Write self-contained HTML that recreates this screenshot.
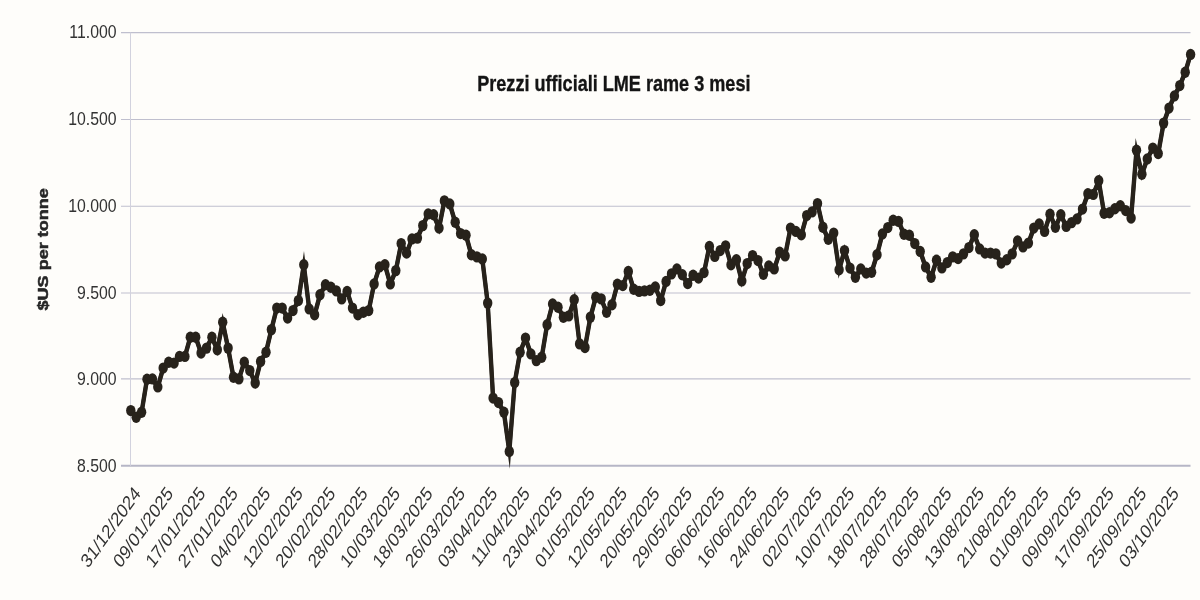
<!DOCTYPE html>
<html><head><meta charset="utf-8"><title>Prezzi ufficiali LME rame 3 mesi</title>
<style>html,body{margin:0;padding:0;background:#fefdfa;}body{width:1200px;height:600px;overflow:hidden;font-family:"Liberation Sans",sans-serif;}svg{display:block;}text{font-family:"Liberation Sans",sans-serif;}</style></head><body>
<svg style="will-change:transform;filter:blur(0.35px)" width="1200" height="600" viewBox="0 0 1200 600">
<rect x="0" y="0" width="1200" height="600" fill="#fefdfa"/>
<line x1="121" y1="32.60" x2="1190.5" y2="32.60" stroke="#bfbfce" stroke-width="1.1"/>
<line x1="121" y1="119.50" x2="1190.5" y2="119.50" stroke="#bfbfce" stroke-width="1.1"/>
<line x1="121" y1="206.30" x2="1190.5" y2="206.30" stroke="#bfbfce" stroke-width="1.1"/>
<line x1="121" y1="293.00" x2="1190.5" y2="293.00" stroke="#bfbfce" stroke-width="1.1"/>
<line x1="121" y1="378.90" x2="1190.5" y2="378.90" stroke="#bfbfce" stroke-width="1.1"/>
<line x1="121" y1="465.80" x2="1190.5" y2="465.80" stroke="#b6b6c6" stroke-width="1.9"/>
<line x1="130.5" y1="32.60" x2="130.5" y2="465.80" stroke="#d2d2de" stroke-width="1"/>
<text transform="translate(116.5,38.30) scale(0.859,1)" text-anchor="end" font-size="18.4" fill="#323232">11.000</text>
<text transform="translate(116.5,125.20) scale(0.859,1)" text-anchor="end" font-size="18.4" fill="#323232">10.500</text>
<text transform="translate(116.5,212.00) scale(0.859,1)" text-anchor="end" font-size="18.4" fill="#323232">10.000</text>
<text transform="translate(116.5,298.70) scale(0.859,1)" text-anchor="end" font-size="18.4" fill="#323232">9.500</text>
<text transform="translate(116.5,384.60) scale(0.859,1)" text-anchor="end" font-size="18.4" fill="#323232">9.000</text>
<text transform="translate(116.5,471.50) scale(0.859,1)" text-anchor="end" font-size="18.4" fill="#323232">8.500</text>
<text transform="translate(47.6,310.4) rotate(-90) scale(1.243,1)" font-size="14.5" font-weight="bold" fill="#262626" stroke="#262626" stroke-width="0.5">$US per tonne</text>
<text x="477.2" y="90.7" font-size="22.3" font-weight="bold" fill="#141414" stroke="#141414" stroke-width="0.35" textLength="273.3" lengthAdjust="spacingAndGlyphs">Prezzi ufficiali LME rame 3 mesi</text>
<text transform="translate(141.40,494.30) scale(1,1.226) rotate(-48.80)" text-anchor="end" font-size="16.20" fill="#323232">31/12/2024</text>
<text transform="translate(173.84,494.30) scale(1,1.226) rotate(-48.80)" text-anchor="end" font-size="16.20" fill="#323232">09/01/2025</text>
<text transform="translate(206.29,494.30) scale(1,1.226) rotate(-48.80)" text-anchor="end" font-size="16.20" fill="#323232">17/01/2025</text>
<text transform="translate(238.73,494.30) scale(1,1.226) rotate(-48.80)" text-anchor="end" font-size="16.20" fill="#323232">27/01/2025</text>
<text transform="translate(271.17,494.30) scale(1,1.226) rotate(-48.80)" text-anchor="end" font-size="16.20" fill="#323232">04/02/2025</text>
<text transform="translate(303.61,494.30) scale(1,1.226) rotate(-48.80)" text-anchor="end" font-size="16.20" fill="#323232">12/02/2025</text>
<text transform="translate(336.06,494.30) scale(1,1.226) rotate(-48.80)" text-anchor="end" font-size="16.20" fill="#323232">20/02/2025</text>
<text transform="translate(368.50,494.30) scale(1,1.226) rotate(-48.80)" text-anchor="end" font-size="16.20" fill="#323232">28/02/2025</text>
<text transform="translate(400.94,494.30) scale(1,1.226) rotate(-48.80)" text-anchor="end" font-size="16.20" fill="#323232">10/03/2025</text>
<text transform="translate(433.39,494.30) scale(1,1.226) rotate(-48.80)" text-anchor="end" font-size="16.20" fill="#323232">18/03/2025</text>
<text transform="translate(465.83,494.30) scale(1,1.226) rotate(-48.80)" text-anchor="end" font-size="16.20" fill="#323232">26/03/2025</text>
<text transform="translate(498.27,494.30) scale(1,1.226) rotate(-48.80)" text-anchor="end" font-size="16.20" fill="#323232">03/04/2025</text>
<text transform="translate(530.71,494.30) scale(1,1.226) rotate(-48.80)" text-anchor="end" font-size="16.20" fill="#323232">11/04/2025</text>
<text transform="translate(563.16,494.30) scale(1,1.226) rotate(-48.80)" text-anchor="end" font-size="16.20" fill="#323232">23/04/2025</text>
<text transform="translate(595.60,494.30) scale(1,1.226) rotate(-48.80)" text-anchor="end" font-size="16.20" fill="#323232">01/05/2025</text>
<text transform="translate(628.04,494.30) scale(1,1.226) rotate(-48.80)" text-anchor="end" font-size="16.20" fill="#323232">12/05/2025</text>
<text transform="translate(660.49,494.30) scale(1,1.226) rotate(-48.80)" text-anchor="end" font-size="16.20" fill="#323232">20/05/2025</text>
<text transform="translate(692.93,494.30) scale(1,1.226) rotate(-48.80)" text-anchor="end" font-size="16.20" fill="#323232">29/05/2025</text>
<text transform="translate(725.37,494.30) scale(1,1.226) rotate(-48.80)" text-anchor="end" font-size="16.20" fill="#323232">06/06/2025</text>
<text transform="translate(757.81,494.30) scale(1,1.226) rotate(-48.80)" text-anchor="end" font-size="16.20" fill="#323232">16/06/2025</text>
<text transform="translate(790.26,494.30) scale(1,1.226) rotate(-48.80)" text-anchor="end" font-size="16.20" fill="#323232">24/06/2025</text>
<text transform="translate(822.70,494.30) scale(1,1.226) rotate(-48.80)" text-anchor="end" font-size="16.20" fill="#323232">02/07/2025</text>
<text transform="translate(855.14,494.30) scale(1,1.226) rotate(-48.80)" text-anchor="end" font-size="16.20" fill="#323232">10/07/2025</text>
<text transform="translate(887.59,494.30) scale(1,1.226) rotate(-48.80)" text-anchor="end" font-size="16.20" fill="#323232">18/07/2025</text>
<text transform="translate(920.03,494.30) scale(1,1.226) rotate(-48.80)" text-anchor="end" font-size="16.20" fill="#323232">28/07/2025</text>
<text transform="translate(952.47,494.30) scale(1,1.226) rotate(-48.80)" text-anchor="end" font-size="16.20" fill="#323232">05/08/2025</text>
<text transform="translate(984.91,494.30) scale(1,1.226) rotate(-48.80)" text-anchor="end" font-size="16.20" fill="#323232">13/08/2025</text>
<text transform="translate(1017.36,494.30) scale(1,1.226) rotate(-48.80)" text-anchor="end" font-size="16.20" fill="#323232">21/08/2025</text>
<text transform="translate(1049.80,494.30) scale(1,1.226) rotate(-48.80)" text-anchor="end" font-size="16.20" fill="#323232">01/09/2025</text>
<text transform="translate(1082.24,494.30) scale(1,1.226) rotate(-48.80)" text-anchor="end" font-size="16.20" fill="#323232">09/09/2025</text>
<text transform="translate(1114.69,494.30) scale(1,1.226) rotate(-48.80)" text-anchor="end" font-size="16.20" fill="#323232">17/09/2025</text>
<text transform="translate(1147.13,494.30) scale(1,1.226) rotate(-48.80)" text-anchor="end" font-size="16.20" fill="#323232">25/09/2025</text>
<text transform="translate(1179.57,494.30) scale(1,1.226) rotate(-48.80)" text-anchor="end" font-size="16.20" fill="#323232">03/10/2025</text>
<g transform="scale(1,1.210)">
<polyline points="130.8,339.34 136.2,344.88 141.6,340.74 147.0,313.47 152.4,313.14 157.8,319.75 163.2,304.21 168.7,299.42 174.1,300.08 179.5,294.55 184.9,294.55 190.3,278.76 195.7,278.76 201.1,291.82 206.5,287.69 211.9,278.76 217.3,289.09 222.7,266.36 228.1,287.69 233.5,311.82 238.9,313.14 244.3,299.42 249.8,306.28 255.2,316.61 260.6,298.68 266.0,291.16 271.4,272.40 276.8,254.63 282.2,254.63 287.6,262.89 293.0,256.69 298.4,248.43 303.8,218.84 309.2,255.29 314.6,260.17 320.0,243.64 325.5,235.37 330.9,237.44 336.3,240.41 341.7,247.02 347.1,240.83 352.5,254.63 357.9,260.17 363.3,258.10 368.7,256.69 374.1,234.63 379.5,220.58 384.9,218.84 390.3,234.63 395.8,223.64 401.2,201.32 406.6,209.17 412.0,197.44 417.4,196.78 422.8,186.45 428.2,176.78 433.6,177.52 439.0,188.51 444.4,166.03 449.8,168.51 455.2,183.72 460.6,193.06 466.0,194.46 471.4,210.58 476.9,212.31 482.3,213.97 487.7,250.50 493.1,329.01 498.5,332.73 503.9,340.74 509.3,373.06 514.7,316.20 520.1,291.16 525.5,279.42 530.9,292.48 536.3,298.02 541.7,295.29 547.1,268.43 552.6,251.16 558.0,253.97 563.4,262.23 568.8,261.07 574.2,247.77 579.6,284.21 585.0,287.27 590.4,262.07 595.8,245.70 601.2,247.02 606.6,258.10 612.0,251.90 617.4,234.96 622.8,236.03 628.3,224.30 633.7,239.09 639.1,240.83 644.5,240.41 649.9,239.92 655.3,237.11 660.7,248.43 666.1,232.56 671.5,226.36 676.9,222.23 682.3,227.11 687.7,234.38 693.1,227.52 698.5,229.83 704.0,225.29 709.4,203.64 714.8,211.90 720.2,207.11 725.6,203.22 731.0,218.84 736.4,214.71 741.8,232.15 747.2,217.85 752.6,211.24 758.0,215.37 763.4,226.69 768.8,219.75 774.2,222.23 779.7,208.51 785.1,211.49 790.5,188.51 795.9,191.24 801.3,194.05 806.7,178.18 812.1,175.12 817.5,168.26 822.9,187.85 828.3,197.77 833.7,192.64 839.1,222.98 844.5,207.11 850.0,221.57 855.4,229.17 860.8,222.23 866.2,225.70 871.6,225.04 877.0,210.58 882.4,193.31 887.8,188.10 893.2,182.07 898.6,182.98 904.0,193.64 909.4,194.46 914.8,201.32 920.2,207.77 925.6,220.58 931.1,229.17 936.5,215.04 941.9,221.40 947.3,217.02 952.7,212.31 958.1,213.72 963.5,209.83 968.9,204.63 974.3,194.05 979.7,205.70 985.1,209.17 990.5,209.17 995.9,209.83 1001.3,217.44 1006.8,214.71 1012.2,209.83 1017.6,199.09 1023.0,204.05 1028.4,200.91 1033.8,188.51 1039.2,185.04 1044.6,191.24 1050.0,177.11 1055.4,187.85 1060.8,177.52 1066.2,187.11 1071.6,183.97 1077.0,180.91 1082.5,172.81 1087.9,160.17 1093.3,160.66 1098.7,149.42 1104.1,176.28 1109.5,175.87 1114.9,172.56 1120.3,170.08 1125.7,174.05 1131.1,180.25 1136.5,124.21 1141.9,144.05 1147.3,131.32 1152.8,122.40 1158.2,126.94 1163.6,101.74 1169.0,89.34 1174.4,79.26 1179.8,70.74 1185.2,59.75 1190.6,44.96" fill="none" stroke="#27221b" stroke-width="3.7" stroke-linejoin="miter" stroke-miterlimit="10" stroke-linecap="round"/>
<polyline points="130.8,339.34 136.2,344.88 141.6,340.74 147.0,313.47 152.4,313.14 157.8,319.75 163.2,304.21 168.7,299.42 174.1,300.08 179.5,294.55 184.9,294.55 190.3,278.76 195.7,278.76 201.1,291.82 206.5,287.69 211.9,278.76 217.3,289.09 222.7,266.36 228.1,287.69 233.5,311.82 238.9,313.14 244.3,299.42 249.8,306.28 255.2,316.61 260.6,298.68 266.0,291.16 271.4,272.40 276.8,254.63 282.2,254.63 287.6,262.89 293.0,256.69 298.4,248.43 303.8,218.84 309.2,255.29 314.6,260.17 320.0,243.64 325.5,235.37 330.9,237.44 336.3,240.41 341.7,247.02 347.1,240.83 352.5,254.63 357.9,260.17 363.3,258.10 368.7,256.69 374.1,234.63 379.5,220.58 384.9,218.84 390.3,234.63 395.8,223.64 401.2,201.32 406.6,209.17 412.0,197.44 417.4,196.78 422.8,186.45 428.2,176.78 433.6,177.52 439.0,188.51 444.4,166.03 449.8,168.51 455.2,183.72 460.6,193.06 466.0,194.46 471.4,210.58 476.9,212.31 482.3,213.97 487.7,250.50 493.1,329.01 498.5,332.73 503.9,340.74 509.3,373.06 514.7,316.20 520.1,291.16 525.5,279.42 530.9,292.48 536.3,298.02 541.7,295.29 547.1,268.43 552.6,251.16 558.0,253.97 563.4,262.23 568.8,261.07 574.2,247.77 579.6,284.21 585.0,287.27 590.4,262.07 595.8,245.70 601.2,247.02 606.6,258.10 612.0,251.90 617.4,234.96 622.8,236.03 628.3,224.30 633.7,239.09 639.1,240.83 644.5,240.41 649.9,239.92 655.3,237.11 660.7,248.43 666.1,232.56 671.5,226.36 676.9,222.23 682.3,227.11 687.7,234.38 693.1,227.52 698.5,229.83 704.0,225.29 709.4,203.64 714.8,211.90 720.2,207.11 725.6,203.22 731.0,218.84 736.4,214.71 741.8,232.15 747.2,217.85 752.6,211.24 758.0,215.37 763.4,226.69 768.8,219.75 774.2,222.23 779.7,208.51 785.1,211.49 790.5,188.51 795.9,191.24 801.3,194.05 806.7,178.18 812.1,175.12 817.5,168.26 822.9,187.85 828.3,197.77 833.7,192.64 839.1,222.98 844.5,207.11 850.0,221.57 855.4,229.17 860.8,222.23 866.2,225.70 871.6,225.04 877.0,210.58 882.4,193.31 887.8,188.10 893.2,182.07 898.6,182.98 904.0,193.64 909.4,194.46 914.8,201.32 920.2,207.77 925.6,220.58 931.1,229.17 936.5,215.04 941.9,221.40 947.3,217.02 952.7,212.31 958.1,213.72 963.5,209.83 968.9,204.63 974.3,194.05 979.7,205.70 985.1,209.17 990.5,209.17 995.9,209.83 1001.3,217.44 1006.8,214.71 1012.2,209.83 1017.6,199.09 1023.0,204.05 1028.4,200.91 1033.8,188.51 1039.2,185.04 1044.6,191.24 1050.0,177.11 1055.4,187.85 1060.8,177.52 1066.2,187.11 1071.6,183.97 1077.0,180.91 1082.5,172.81 1087.9,160.17 1093.3,160.66 1098.7,149.42 1104.1,176.28 1109.5,175.87 1114.9,172.56 1120.3,170.08 1125.7,174.05 1131.1,180.25 1136.5,124.21 1141.9,144.05 1147.3,131.32 1152.8,122.40 1158.2,126.94 1163.6,101.74 1169.0,89.34 1174.4,79.26 1179.8,70.74 1185.2,59.75 1190.6,44.96" fill="none" stroke="#27221b" stroke-width="4.4" stroke-linejoin="round" stroke-linecap="round"/>
<g fill="#27221b">
<circle cx="130.8" cy="339.34" r="4.7"/>
<circle cx="136.2" cy="344.88" r="4.7"/>
<circle cx="141.6" cy="340.74" r="4.7"/>
<circle cx="147.0" cy="313.47" r="4.7"/>
<circle cx="152.4" cy="313.14" r="4.7"/>
<circle cx="157.8" cy="319.75" r="4.7"/>
<circle cx="163.2" cy="304.21" r="4.7"/>
<circle cx="168.7" cy="299.42" r="4.7"/>
<circle cx="174.1" cy="300.08" r="4.7"/>
<circle cx="179.5" cy="294.55" r="4.7"/>
<circle cx="184.9" cy="294.55" r="4.7"/>
<circle cx="190.3" cy="278.76" r="4.7"/>
<circle cx="195.7" cy="278.76" r="4.7"/>
<circle cx="201.1" cy="291.82" r="4.7"/>
<circle cx="206.5" cy="287.69" r="4.7"/>
<circle cx="211.9" cy="278.76" r="4.7"/>
<circle cx="217.3" cy="289.09" r="4.7"/>
<circle cx="222.7" cy="266.36" r="4.7"/>
<circle cx="228.1" cy="287.69" r="4.7"/>
<circle cx="233.5" cy="311.82" r="4.7"/>
<circle cx="238.9" cy="313.14" r="4.7"/>
<circle cx="244.3" cy="299.42" r="4.7"/>
<circle cx="249.8" cy="306.28" r="4.7"/>
<circle cx="255.2" cy="316.61" r="4.7"/>
<circle cx="260.6" cy="298.68" r="4.7"/>
<circle cx="266.0" cy="291.16" r="4.7"/>
<circle cx="271.4" cy="272.40" r="4.7"/>
<circle cx="276.8" cy="254.63" r="4.7"/>
<circle cx="282.2" cy="254.63" r="4.7"/>
<circle cx="287.6" cy="262.89" r="4.7"/>
<circle cx="293.0" cy="256.69" r="4.7"/>
<circle cx="298.4" cy="248.43" r="4.7"/>
<circle cx="303.8" cy="218.84" r="4.7"/>
<circle cx="309.2" cy="255.29" r="4.7"/>
<circle cx="314.6" cy="260.17" r="4.7"/>
<circle cx="320.0" cy="243.64" r="4.7"/>
<circle cx="325.5" cy="235.37" r="4.7"/>
<circle cx="330.9" cy="237.44" r="4.7"/>
<circle cx="336.3" cy="240.41" r="4.7"/>
<circle cx="341.7" cy="247.02" r="4.7"/>
<circle cx="347.1" cy="240.83" r="4.7"/>
<circle cx="352.5" cy="254.63" r="4.7"/>
<circle cx="357.9" cy="260.17" r="4.7"/>
<circle cx="363.3" cy="258.10" r="4.7"/>
<circle cx="368.7" cy="256.69" r="4.7"/>
<circle cx="374.1" cy="234.63" r="4.7"/>
<circle cx="379.5" cy="220.58" r="4.7"/>
<circle cx="384.9" cy="218.84" r="4.7"/>
<circle cx="390.3" cy="234.63" r="4.7"/>
<circle cx="395.8" cy="223.64" r="4.7"/>
<circle cx="401.2" cy="201.32" r="4.7"/>
<circle cx="406.6" cy="209.17" r="4.7"/>
<circle cx="412.0" cy="197.44" r="4.7"/>
<circle cx="417.4" cy="196.78" r="4.7"/>
<circle cx="422.8" cy="186.45" r="4.7"/>
<circle cx="428.2" cy="176.78" r="4.7"/>
<circle cx="433.6" cy="177.52" r="4.7"/>
<circle cx="439.0" cy="188.51" r="4.7"/>
<circle cx="444.4" cy="166.03" r="4.7"/>
<circle cx="449.8" cy="168.51" r="4.7"/>
<circle cx="455.2" cy="183.72" r="4.7"/>
<circle cx="460.6" cy="193.06" r="4.7"/>
<circle cx="466.0" cy="194.46" r="4.7"/>
<circle cx="471.4" cy="210.58" r="4.7"/>
<circle cx="476.9" cy="212.31" r="4.7"/>
<circle cx="482.3" cy="213.97" r="4.7"/>
<circle cx="487.7" cy="250.50" r="4.7"/>
<circle cx="493.1" cy="329.01" r="4.7"/>
<circle cx="498.5" cy="332.73" r="4.7"/>
<circle cx="503.9" cy="340.74" r="4.7"/>
<circle cx="509.3" cy="373.06" r="4.7"/>
<circle cx="514.7" cy="316.20" r="4.7"/>
<circle cx="520.1" cy="291.16" r="4.7"/>
<circle cx="525.5" cy="279.42" r="4.7"/>
<circle cx="530.9" cy="292.48" r="4.7"/>
<circle cx="536.3" cy="298.02" r="4.7"/>
<circle cx="541.7" cy="295.29" r="4.7"/>
<circle cx="547.1" cy="268.43" r="4.7"/>
<circle cx="552.6" cy="251.16" r="4.7"/>
<circle cx="558.0" cy="253.97" r="4.7"/>
<circle cx="563.4" cy="262.23" r="4.7"/>
<circle cx="568.8" cy="261.07" r="4.7"/>
<circle cx="574.2" cy="247.77" r="4.7"/>
<circle cx="579.6" cy="284.21" r="4.7"/>
<circle cx="585.0" cy="287.27" r="4.7"/>
<circle cx="590.4" cy="262.07" r="4.7"/>
<circle cx="595.8" cy="245.70" r="4.7"/>
<circle cx="601.2" cy="247.02" r="4.7"/>
<circle cx="606.6" cy="258.10" r="4.7"/>
<circle cx="612.0" cy="251.90" r="4.7"/>
<circle cx="617.4" cy="234.96" r="4.7"/>
<circle cx="622.8" cy="236.03" r="4.7"/>
<circle cx="628.3" cy="224.30" r="4.7"/>
<circle cx="633.7" cy="239.09" r="4.7"/>
<circle cx="639.1" cy="240.83" r="4.7"/>
<circle cx="644.5" cy="240.41" r="4.7"/>
<circle cx="649.9" cy="239.92" r="4.7"/>
<circle cx="655.3" cy="237.11" r="4.7"/>
<circle cx="660.7" cy="248.43" r="4.7"/>
<circle cx="666.1" cy="232.56" r="4.7"/>
<circle cx="671.5" cy="226.36" r="4.7"/>
<circle cx="676.9" cy="222.23" r="4.7"/>
<circle cx="682.3" cy="227.11" r="4.7"/>
<circle cx="687.7" cy="234.38" r="4.7"/>
<circle cx="693.1" cy="227.52" r="4.7"/>
<circle cx="698.5" cy="229.83" r="4.7"/>
<circle cx="704.0" cy="225.29" r="4.7"/>
<circle cx="709.4" cy="203.64" r="4.7"/>
<circle cx="714.8" cy="211.90" r="4.7"/>
<circle cx="720.2" cy="207.11" r="4.7"/>
<circle cx="725.6" cy="203.22" r="4.7"/>
<circle cx="731.0" cy="218.84" r="4.7"/>
<circle cx="736.4" cy="214.71" r="4.7"/>
<circle cx="741.8" cy="232.15" r="4.7"/>
<circle cx="747.2" cy="217.85" r="4.7"/>
<circle cx="752.6" cy="211.24" r="4.7"/>
<circle cx="758.0" cy="215.37" r="4.7"/>
<circle cx="763.4" cy="226.69" r="4.7"/>
<circle cx="768.8" cy="219.75" r="4.7"/>
<circle cx="774.2" cy="222.23" r="4.7"/>
<circle cx="779.7" cy="208.51" r="4.7"/>
<circle cx="785.1" cy="211.49" r="4.7"/>
<circle cx="790.5" cy="188.51" r="4.7"/>
<circle cx="795.9" cy="191.24" r="4.7"/>
<circle cx="801.3" cy="194.05" r="4.7"/>
<circle cx="806.7" cy="178.18" r="4.7"/>
<circle cx="812.1" cy="175.12" r="4.7"/>
<circle cx="817.5" cy="168.26" r="4.7"/>
<circle cx="822.9" cy="187.85" r="4.7"/>
<circle cx="828.3" cy="197.77" r="4.7"/>
<circle cx="833.7" cy="192.64" r="4.7"/>
<circle cx="839.1" cy="222.98" r="4.7"/>
<circle cx="844.5" cy="207.11" r="4.7"/>
<circle cx="850.0" cy="221.57" r="4.7"/>
<circle cx="855.4" cy="229.17" r="4.7"/>
<circle cx="860.8" cy="222.23" r="4.7"/>
<circle cx="866.2" cy="225.70" r="4.7"/>
<circle cx="871.6" cy="225.04" r="4.7"/>
<circle cx="877.0" cy="210.58" r="4.7"/>
<circle cx="882.4" cy="193.31" r="4.7"/>
<circle cx="887.8" cy="188.10" r="4.7"/>
<circle cx="893.2" cy="182.07" r="4.7"/>
<circle cx="898.6" cy="182.98" r="4.7"/>
<circle cx="904.0" cy="193.64" r="4.7"/>
<circle cx="909.4" cy="194.46" r="4.7"/>
<circle cx="914.8" cy="201.32" r="4.7"/>
<circle cx="920.2" cy="207.77" r="4.7"/>
<circle cx="925.6" cy="220.58" r="4.7"/>
<circle cx="931.1" cy="229.17" r="4.7"/>
<circle cx="936.5" cy="215.04" r="4.7"/>
<circle cx="941.9" cy="221.40" r="4.7"/>
<circle cx="947.3" cy="217.02" r="4.7"/>
<circle cx="952.7" cy="212.31" r="4.7"/>
<circle cx="958.1" cy="213.72" r="4.7"/>
<circle cx="963.5" cy="209.83" r="4.7"/>
<circle cx="968.9" cy="204.63" r="4.7"/>
<circle cx="974.3" cy="194.05" r="4.7"/>
<circle cx="979.7" cy="205.70" r="4.7"/>
<circle cx="985.1" cy="209.17" r="4.7"/>
<circle cx="990.5" cy="209.17" r="4.7"/>
<circle cx="995.9" cy="209.83" r="4.7"/>
<circle cx="1001.3" cy="217.44" r="4.7"/>
<circle cx="1006.8" cy="214.71" r="4.7"/>
<circle cx="1012.2" cy="209.83" r="4.7"/>
<circle cx="1017.6" cy="199.09" r="4.7"/>
<circle cx="1023.0" cy="204.05" r="4.7"/>
<circle cx="1028.4" cy="200.91" r="4.7"/>
<circle cx="1033.8" cy="188.51" r="4.7"/>
<circle cx="1039.2" cy="185.04" r="4.7"/>
<circle cx="1044.6" cy="191.24" r="4.7"/>
<circle cx="1050.0" cy="177.11" r="4.7"/>
<circle cx="1055.4" cy="187.85" r="4.7"/>
<circle cx="1060.8" cy="177.52" r="4.7"/>
<circle cx="1066.2" cy="187.11" r="4.7"/>
<circle cx="1071.6" cy="183.97" r="4.7"/>
<circle cx="1077.0" cy="180.91" r="4.7"/>
<circle cx="1082.5" cy="172.81" r="4.7"/>
<circle cx="1087.9" cy="160.17" r="4.7"/>
<circle cx="1093.3" cy="160.66" r="4.7"/>
<circle cx="1098.7" cy="149.42" r="4.7"/>
<circle cx="1104.1" cy="176.28" r="4.7"/>
<circle cx="1109.5" cy="175.87" r="4.7"/>
<circle cx="1114.9" cy="172.56" r="4.7"/>
<circle cx="1120.3" cy="170.08" r="4.7"/>
<circle cx="1125.7" cy="174.05" r="4.7"/>
<circle cx="1131.1" cy="180.25" r="4.7"/>
<circle cx="1136.5" cy="124.21" r="4.7"/>
<circle cx="1141.9" cy="144.05" r="4.7"/>
<circle cx="1147.3" cy="131.32" r="4.7"/>
<circle cx="1152.8" cy="122.40" r="4.7"/>
<circle cx="1158.2" cy="126.94" r="4.7"/>
<circle cx="1163.6" cy="101.74" r="4.7"/>
<circle cx="1169.0" cy="89.34" r="4.7"/>
<circle cx="1174.4" cy="79.26" r="4.7"/>
<circle cx="1179.8" cy="70.74" r="4.7"/>
<circle cx="1185.2" cy="59.75" r="4.7"/>
<circle cx="1190.6" cy="44.96" r="4.7"/>
</g></g>
</svg></body></html>
